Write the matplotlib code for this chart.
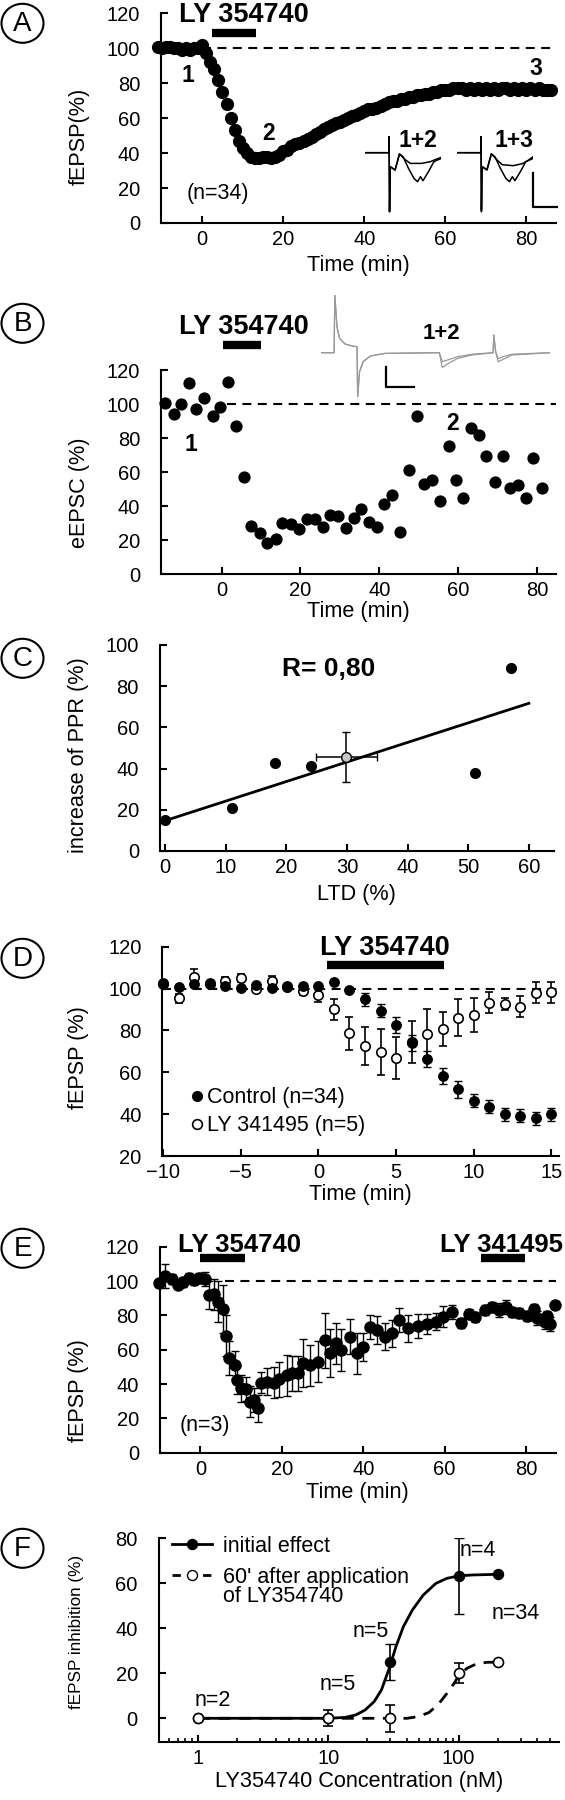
import numpy as np
import matplotlib
matplotlib.use("Agg")
import matplotlib.pyplot as plt
from matplotlib.patches import Ellipse
from matplotlib.lines import Line2D

plt.rcParams['font.family'] = ['Liberation Sans', 'DejaVu Sans']
plt.rcParams['axes.linewidth'] = 1.5

W, H = 565, 1800

# ---------------- data ----------------
# (A) fEPSP after LY 354740, n=34, one point per minute
time_a = list(range(-11, 87))
fepsp_a = [101, 100, 101, 101, 100, 100, 99, 100, 99, 100, 100, 102,
           97, 92, 88, 82, 75, 68, 60, 53, 47, 43, 40, 38, 37, 37, 38, 38, 37, 38, 39,
           41, 42, 44, 45, 46, 47, 48, 49, 51, 52, 54, 55, 56, 57, 58, 59, 60, 61, 62, 63, 64,
           65, 65, 66, 67, 68, 69, 70, 70, 71, 71, 72, 72, 73, 73, 74, 74, 75, 75, 76, 76,
           76, 77, 77, 77, 76, 77, 76, 77, 76, 77, 76, 77, 76, 77, 77, 76, 77, 76, 77, 76,
           77, 76, 77, 76, 76, 76]
drug_a = [2.3, 13.3]

# (A) example field potentials (1 = control, 2 = after LY, 3 = 80 min)
tr1_t = [0, 22, 22.2, 22.6, 23.2, 27.7, 31.7, 35, 40, 45, 48.3, 51, 53.3, 58.3, 63.3, 70]
tr1_v = [0, 0, 16, -59, -14, -17.3, -1.3, -4, -15.7, -25.7, -29, -24, -28, -19, -9, -5.7]
tr2_t = [0, 22, 22.2, 22.6, 23.2, 27.7, 31.7, 36.7, 41.7, 51.7, 60, 65, 70]
tr2_v = [0, 0, 16, -59, -14, -17.3, -1.3, -6.7, -10.7, -10.7, -9, -6.7, -4.7]
tr3_v = [0, 0, 16, -57, -14, -17, -1, -7, -12, -13, -11, -8, -4]

# (B) eEPSC, single cell
time_b = [-14.3, -12.1, -10.3, -8.3, -6.4, -4.4, -2.2, -0.3, 1.7, 3.7, 5.7, 7.4, 9.7, 11.5,
          13.8, 15.4, 17.5, 19.5, 21.6, 23.7, 25.6, 27.4, 29.4, 31.4, 33.6, 35.4, 37.4, 39.4,
          41.2, 43.2, 45.3, 47.4, 49.4, 51.2, 53.3, 55.2, 57.5, 59.3, 61.1, 63.2, 65.1, 67.1,
          69.2, 71.3, 73.1, 75.2, 77.2, 78.9, 81.1]
eepsc_b = [100.8, 94.2, 99.8, 112.2, 97.1, 103.4, 93, 98.1, 113, 87.1, 57, 28.4, 24.5, 18.2,
           20.6, 30.3, 29.6, 26.4, 32.7, 32.7, 27.6, 34.8, 34.3, 27, 32.9, 38.6, 30.7, 28,
           41.3, 46.6, 25.1, 61.3, 93, 53.1, 55.4, 43.3, 75.4, 55.4, 44.8, 86.1, 81.8, 69.7,
           54.4, 69.5, 50.5, 52.5, 44.6, 68.1, 50.9]
drug_b = [0.3, 10]
trb_t = [0, 11.7, 12.3, 14.3, 16.7, 21.7, 28.3, 32.7, 33.3, 35, 38.3, 45, 58.3, 108.3, 111,
         116.7, 125, 138.3, 157.7, 158.3, 160, 162.3, 166.7, 175, 210]
trb1_v = [0, 0, 57.7, 26, 14.3, 8.7, 6.7, 6, -44, -19, -9, -3.3, -0.7, 0, -14.7, -10.7, -5.7,
          -2.3, 0, 17.7, 1, -9, -6.7, -2.3, 0]
trb2_v = [0, 0, 57.7, 26, 14.3, 8.7, 6.7, 6, -44, -19, -9, -3.3, -0.7, 0, -9, -7, -4,
          -1.5, 0, 17.7, 1, -6, -4, -1.5, 0]

# (C) PPR increase vs LTD
ltd_c = [0, 11, 18.1, 24, 51.1, 57]
ppr_c = [14.9, 21, 42.9, 41.1, 38, 89]
ltd_mean, ltd_sem = 29.9, 5
ppr_mean, ppr_sem = 45.6, 12
fit_x = [0, 60]
fit_y = [14.7, 71.7]

# (D) control vs LY 341495
time_d = list(range(-10, 16))
ctrl_d = [102.5, 100.6, 102, 102.5, 101.2, 100.1, 101.7, 100.1, 101, 101.4, 101.2, 103, 99.3,
          94.8, 89.4, 82.6, 74, 66.3, 58.2, 51.8, 46.4, 43.6, 39.9, 39.3, 38, 39.9]
ctrl_err = [0, 0, 0, 0, 0, 0, 0, 0, 0, 0, 0, 0, 1, 3, 3, 4, 4, 4, 4, 4, 3, 3, 3, 3, 3, 3]
ly_d = [102, 95.3, 105.4, 102.2, 103.6, 105, 99.6, 103.8, 100.6, 99, 96.8, 90.1, 78.6, 72.5,
        69.8, 66.7, 74.3, 78.1, 80.7, 86.1, 87.4, 93.2, 92.6, 91.3, 98, 98.2]
ly_err = [0, 2, 4, 1, 2, 2, 1, 2, 1, 2, 3, 5, 8, 9, 11, 10, 10, 12, 8, 9, 8, 5, 3, 5, 5, 5]
drug_d = [0.56, 8.1]

# (E) LY 354740 then LY 341495, n=3
time_e = [-10.1, -8.8, -7, -5.6, -4.3, -2.9, -1.6, -0.3, 1.1, 2, 3.3, 4.2, 5.5, 6.2, 7.1, 8.5,
          9.1, 10, 11.3, 12.2, 13.1, 14.2, 14.9, 16.3, 18.1, 19.4, 21.2, 22.5, 23.9, 25.2, 27,
          28.8, 30.6, 31.9, 33.2, 34.6, 36.8, 38.6, 39.9, 41.7, 43.5, 45.3, 47.1, 48.9, 51.1,
          53.4, 55.6, 57.8, 59.6, 61.8, 64.1, 65.9, 67.6, 69.9, 71.7, 73.5, 75.2, 76.6, 78.4,
          80.2, 82, 82.8, 84.6, 85.3, 86, 87.1]
fepsp_e = [98.6, 102.9, 101, 97.7, 99.6, 101.6, 100.6, 101.6, 101, 91.8, 92.4, 88, 83.5, 68.2,
           55, 51, 42.3, 37.5, 36.9, 29.7, 30.7, 25.8, 40.8, 41.4, 40.8, 42.7, 45.2, 46.2, 46.2,
           52, 51, 53, 65.6, 57.9, 63.7, 59.8, 67.6, 57.9, 61.7, 73.4, 71.5, 67.6, 69.5, 77.3,
           72.4, 73.8, 75, 76.3, 79.2, 82.1, 75.7, 80.8, 79.2, 83.1, 85, 83.1, 84.7, 82.1, 81.2,
           79.6, 83.5, 78.3, 76.3, 79.6, 75, 86]
err_e = [2, 7, 3, 2, 3, 3, 3, 3, 4, 8, 9, 12, 14, 12, 10, 8, 8, 8, 7, 9, 7, 8, 6, 8, 9, 10, 12,
         10, 10, 14, 12, 12, 16, 14, 12, 12, 10, 12, 8, 7, 8, 8, 8, 7, 8, 7, 6, 5, 6, 4, 3, 3,
         3, 3, 3, 4, 4, 3, 3, 3, 3, 4, 4, 3, 4, 0]
drug_e1 = [0, 10.9]
drug_e2 = [69, 79.9]

# (F) concentration-response
conc_f = [1, 10, 30, 100, 200]
init_f = [0, 0, 25.2, 63.3, 64]
init_err = [0, 0, 8, 17, 0]
late_f = [0, 0, 0, 20, 25]
late_err = [0, 3.5, 6, 4.5, 0]
curve1_c = [1, 10, 13.5, 16.3, 19.2, 22.5, 25.6, 29.7, 33.1, 37.7, 44.2, 53.6, 67.1, 81.5, 100, 127.7, 200]
curve1_v = [0, 0, 0.4, 1.5, 3.7, 7.4, 12.6, 23, 31.9, 40.7, 48.1, 54.8, 60, 62.2, 63.3, 63.7, 64]
curve2_c = [1, 30, 40.2, 48.7, 59, 69.3, 81.5, 92.6, 100, 115.8, 136, 165, 200]
curve2_v = [0, 0, 0, 0.7, 2.5, 5.9, 11.1, 15.6, 18.8, 22.2, 24.1, 24.9, 24.9]
n_labels = [("n=2", 1.29, 8.1), ("n=5", 11.9, 14.8), ("n=5", 21.1, 38.5),
            ("n=4", 140.6, 74.8), ("n=34", 275, 46.4)]

# ---------------- figure ----------------
fig = plt.figure(figsize=(W / 100, H / 100), dpi=100)
TICK = 14.5
LAB = 15.6
DASH = (4.3, 3.1)


def px_axes(left, top, right, bottom):
    return fig.add_axes([left / W, 1 - bottom / H, (right - left) / W, (bottom - top) / H])


def style(ax, ylabel, xlabel, box, ylab_x, ylab_y, xlab_top, ysize=LAB):
    left, top, right, bottom = box
    for s in ['top', 'right']:
        ax.spines[s].set_visible(False)
    ax.tick_params(direction='in', length=5, width=1.5, labelsize=TICK)
    ax.tick_params(axis='y', pad=15)
    ax.tick_params(axis='x', pad=5)
    ax.set_ylabel(ylabel, fontsize=ysize)
    ax.yaxis.set_label_coords((ylab_x - left) / (right - left), (bottom - ylab_y) / (bottom - top))
    ax.yaxis.label.set_verticalalignment('center')
    ax.set_xlabel(xlabel, fontsize=LAB)
    ax.xaxis.set_label_coords(0.5, (bottom - xlab_top) / (bottom - top))
    ax.xaxis.label.set_verticalalignment('top')


def baseline(ax, start):
    x0, x1 = ax.get_xlim()
    ax.axhline(100, xmin=(start - x0) / (x1 - x0), xmax=1, color='k', lw=1.5,
               dashes=DASH, zorder=1)


def drug_bar(ax, span, y, label, tx, ty, size=19.5):
    ax.plot(span, [y, y], color='k', lw=6, solid_capstyle='butt', clip_on=False)
    ax.text(tx, ty, label, ha='center', va='center', fontsize=size, fontweight='bold',
            clip_on=False)


def bold(ax, x, y, s, size=16.5):
    ax.text(x, y, s, fontsize=size, fontweight='bold', ha='center', va='center', clip_on=False)


# ---- A ----
box_a = (160.9, 13.3, 555.6, 223)
ax = px_axes(*box_a)
ax.set_xlim(-10.2, 87.2)
ax.set_ylim(0, 120)
baseline(ax, 0)
ax.plot(time_a, fepsp_a, 'o', color='k', ms=8.5, clip_on=False, zorder=3)
ax.set_xticks([0, 20, 40, 60, 80])
ax.set_yticks(range(0, 121, 20))
style(ax, 'fEPSP(%)', 'Time (min)', box_a, 79.2, 136, 255)
drug_bar(ax, drug_a, 109, 'LY 354740', 10.3, 118.8)
bold(ax, -3.6, 84.6, '1')
bold(ax, 16.4, 51.3, '2')
bold(ax, 82.3, 88.4, '3')
ax.text(3.8, 17, '(n=34)', fontsize=15.5, ha='center', va='center')
bold(ax, 53.1, 47.4, '1+2')
bold(ax, 76.9, 47.4, '1+3')

for x0, other in [(364.9, tr2_v), (456.8, tr3_v)]:
    ins = px_axes(x0, 135.7, x0 + 76.3, 212.7)
    ins.set_xlim(0, 70)
    ins.set_ylim(-60, 17)
    ins.axis('off')
    ins.plot(tr1_t, tr1_v, color='k', lw=1.1)
    ins.plot(tr2_t, other, color='k', lw=1.1)
sb = px_axes(533, 172.7, 557.4, 207.3)
sb.set_xlim(0, 1)
sb.set_ylim(0, 1)
sb.axis('off')
sb.plot([0, 0, 1], [1, 0, 0], color='k', lw=1.6, clip_on=False)

# ---- B ----
box_b = (160.9, 370, 555.6, 574.3)
ax = px_axes(*box_b)
ax.set_xlim(-15.35, 84.6)
ax.set_ylim(0, 120)
baseline(ax, 1.4)
ax.plot(time_b, eepsc_b, 'o', color='k', ms=7.8, clip_on=False, zorder=3)
ax.set_xticks([0, 20, 40, 60, 80])
ax.set_yticks(range(0, 121, 20))
style(ax, 'eEPSC (%)', 'Time (min)', box_b, 79.2, 493, 601)
drug_bar(ax, drug_b, 134.6, 'LY 354740', 5.7, 145.4)
bold(ax, -7.8, 76, '1')
bold(ax, 58.4, 88.3, '2')
bold(ax, 55.6, 141.5, '1+2', size=16)

ins = px_axes(321.4, 294.7, 550.1, 397.7)
ins.set_xlim(0, 210)
ins.set_ylim(-45, 58)
ins.axis('off')
ins.plot(trb_t, trb1_v, color='0.6', lw=0.9)
ins.plot(trb_t, trb2_v, color='0.6', lw=0.9)
sb = px_axes(385.6, 367.3, 414, 387.3)
sb.set_xlim(0, 1)
sb.set_ylim(0, 1)
sb.axis('off')
sb.plot([0, 0, 1], [1, 0, 0], color='k', lw=1.6, clip_on=False)

# ---- C ----
box_c = (159.8, 645, 553.7, 851)
ax = px_axes(*box_c)
ax.set_xlim(-0.85, 64.1)
ax.set_ylim(0, 100)
ax.plot(fit_x, fit_y, color='k', lw=2, zorder=2)
ax.plot(ltd_c, ppr_c, 'o', color='k', ms=7, clip_on=False, zorder=3)
ax.errorbar([ltd_mean], [ppr_mean], xerr=[ltd_sem], yerr=[ppr_sem], fmt='o', color='k',
            mfc='0.78', mec='k', ms=7, elinewidth=1.1, capsize=2.7, zorder=4)
ax.set_xticks(range(0, 61, 10))
ax.set_yticks(range(0, 101, 20))
style(ax, 'increase of PPR (%)', 'LTD (%)', box_c, 78.1, 755, 884)
bold(ax, 27, 88.3, 'R= 0,80', size=19)

# ---- D ----
box_d = (162.3, 946.7, 559.2, 1156)
ax = px_axes(*box_d)
ax.set_xlim(-10.05, 15.5)
ax.set_ylim(20, 120)
baseline(ax, -10.05)
ax.errorbar(time_d, ly_d, yerr=ly_err, fmt='o', color='k', mfc='white', mec='k', mew=1.2,
            ms=6.8, elinewidth=1.2, capsize=2.7, clip_on=False, zorder=3)
ax.errorbar(time_d, ctrl_d, yerr=ctrl_err, fmt='o', color='k', ms=6.8, elinewidth=1.2,
            capsize=2.7, clip_on=False, zorder=4)
ax.set_xticks([-10, -5, 0, 5, 10, 15])
ax.set_yticks(range(20, 121, 20))
style(ax, 'fEPSP (%)', 'Time (min)', box_d, 78.1, 1058, 1184)
drug_bar(ax, drug_d, 111.2, 'LY 354740', 4.3, 119.2)
h_ctrl = Line2D([], [], ls='none', marker='o', color='k', ms=7)
h_ly = Line2D([], [], ls='none', marker='o', mfc='white', mec='k', mew=1.2, ms=7)
ax.legend([h_ctrl, h_ly], ['Control (n=34)', 'LY 341495 (n=5)'], loc='lower left',
          bbox_to_anchor=(0.072, 0.094), frameon=False, fontsize=15.5, handlelength=0.6,
          handletextpad=0.15, labelspacing=0.33, borderpad=0, borderaxespad=0)

# ---- E ----
box_e = (159.8, 1246.7, 555.6, 1452.7)
ax = px_axes(*box_e)
ax.set_xlim(-10, 87.3)
ax.set_ylim(0, 120)
baseline(ax, 6)
ax.errorbar(time_e, fepsp_e, yerr=err_e, fmt='o', color='k', ms=8, elinewidth=1,
            capsize=2.8, clip_on=False, zorder=3)
ax.set_xticks([0, 20, 40, 60, 80])
ax.set_yticks(range(0, 121, 20))
style(ax, 'fEPSP (%)', 'Time (min)', box_e, 78.1, 1391, 1482)
drug_bar(ax, drug_e1, 113.2, 'LY 354740', 9.6, 121, size=18.5)
drug_bar(ax, drug_e2, 113.2, 'LY 341495', 73.9, 121, size=18.5)
ax.text(1.1, 16.1, '(n=3)', fontsize=15.5, ha='center', va='center')

# ---- F ----
box_f = (158.7, 1538.3, 559.2, 1741.7)
ax = px_axes(*box_f)
ax.set_xscale('log')
ax.set_xlim(0.5, 592)
ax.set_ylim(-10.4, 80)
ax.plot(curve1_c, curve1_v, color='k', lw=2, zorder=2)
ax.plot(curve2_c, curve2_v, color='k', lw=2, dashes=DASH, zorder=2)
ax.errorbar(conc_f, init_f, yerr=init_err, fmt='o', color='k', ms=7.2, elinewidth=1.2,
            capsize=3.5, zorder=3)
ax.errorbar(conc_f, late_f, yerr=late_err, fmt='o', color='k', mfc='white', mec='k', mew=1.2,
            ms=7.2, elinewidth=1.2, capsize=3.5, zorder=4)
ax.set_xticks([1, 10, 100])
ax.set_xticklabels(['1', '10', '100'])
ax.set_yticks(range(0, 81, 20))
ax.tick_params(which='minor', direction='in', length=3, width=1.2)
style(ax, 'fEPSP inhibition (%)', 'LY354740 Concentration (nM)', box_f, 76.3, 1632, 1771,
      ysize=12.3)
for txt, cx, cy in n_labels:
    ax.text(cx, cy, txt, fontsize=15.5, ha='center', va='center')
h1 = Line2D([], [], color='k', lw=2, marker='o', ms=7.2)
h2 = Line2D([], [], color='k', lw=2, dashes=(3, 2.5), marker='o', mfc='white', mec='k', ms=7.2)
ax.legend([h1, h2], ['initial effect', "60' after application"],
          loc='upper left', bbox_to_anchor=(0.034, 1.012), frameon=False, fontsize=15.5,
          handlelength=1.86, handletextpad=0.5, labelspacing=0.45, borderpad=0,
          borderaxespad=0)
ax.text(0.161, 0.713, 'of LY354740', transform=ax.transAxes, fontsize=15.5,
        ha='left', va='center')

# ---- panel letters ----
ov = fig.add_axes([0, 0, 1, 1])
ov.set_xlim(0, W)
ov.set_ylim(H, 0)
ov.axis('off')
ov.patch.set_alpha(0)
for letter, cy in zip('ABCDEF', [23.3, 323.3, 658.3, 958.3, 1248.3, 1548.3]):
    ov.add_patch(Ellipse((22.5, cy), 42, 39, fill=False, lw=1.5, ec='k'))
    ov.text(22.5, cy + 1, letter, fontsize=20, ha='center', va='center')

fig.savefig('out.png', dpi=100)
